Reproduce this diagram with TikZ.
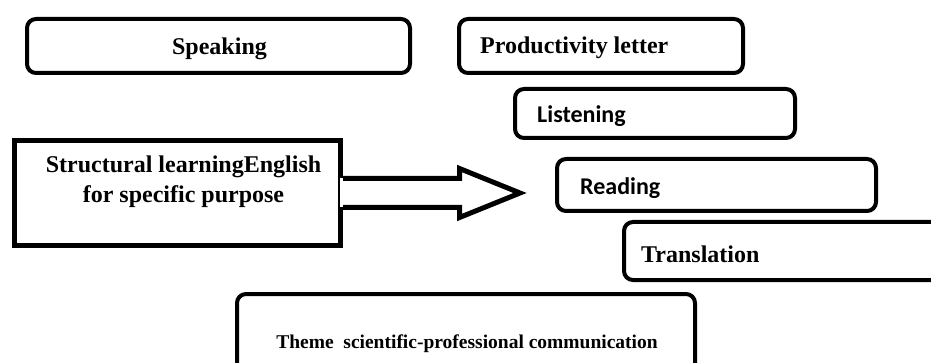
\documentclass[tikz,border=0pt]{standalone}
\usepackage{fontspec}
\setmainfont{Liberation Serif}
\newfontfamily\carlito{Carlito}
\usetikzlibrary{calc}

\begin{document}
\begin{tikzpicture}[x=1pt, y=-1pt,
  bR/.style={draw, line width=4pt, rounded corners=9pt, inner sep=0pt},
  bS/.style={draw, line width=5pt, inner sep=0pt},
  tS/.style={font=\fontsize{24}{30}\selectfont\bfseries, inner sep=0pt},
  tC/.style={font=\carlito\fontsize{24}{30}\selectfont\bfseries, inner sep=0pt},
  tM/.style={font=\fontsize{19.5}{24}\selectfont\bfseries, inner sep=0pt}]
  \useasboundingbox (0,0) rectangle (931,363);
  \clip (0,0) rectangle (931,363);

  % rounded boxes
  \node[bR, minimum width=383, minimum height=54] (speaking) at (218.5,46) {};
  \node[bR, minimum width=284, minimum height=54] (productivity) at (601,46) {};
  \node[bR, minimum width=280, minimum height=49] (listening) at (655,113.5) {};
  \node[bR, minimum width=319, minimum height=52] (reading) at (716.5,185) {};
  \node[bR, minimum width=336, minimum height=58] (translation) at (792,251) {};
  \node[bR, minimum width=458, minimum height=106] (theme) at (466,347) {};
  \node[bS, minimum width=326, minimum height=105] (structural) at (177.5,193) {};

  % labels
  \node[tS, anchor=base] (speakingT) at (219.5,55) {Speaking};
  \node[tS, anchor=base west] (productivityT) at (480,54) {Productivity letter};
  \node[tC, anchor=base west] (listeningT) at (537,123) {Listening};
  \node[tC, anchor=base west] (readingT) at (580,195) {Reading};
  \node[tS, anchor=base west] (translationT) at (641,262) {Translation};
  \node[tM, anchor=base] (themeT) at (467,348) {Theme\ \ scientific-professional communication};
  \node[tS, align=center, anchor=base] (structuralT) at (183.5,203)
       {Structural learningEnglish\\for specific purpose};

  % block arrow out of the structural box
  \coordinate (tip) at (520,193);
  \fill[white] ($(structural.east)+(-3,-14.5)$) -- ($(structural.east)+(116.5,-14.5)$)
    -- ($(structural.east)+(116.5,14.5)$) -- ($(structural.east)+(-3,14.5)$) -- cycle;
  \draw[line width=5pt, line join=miter]
    ($(structural.east)+(0,-14.5)$) -- ($(structural.east)+(116.5,-14.5)$)
    -- ($(structural.east)+(116.5,-24.5)$) -- (tip)
    -- ($(structural.east)+(116.5,24.5)$) -- ($(structural.east)+(116.5,14.5)$)
    -- ($(structural.east)+(0,14.5)$);
\end{tikzpicture}
\end{document}
